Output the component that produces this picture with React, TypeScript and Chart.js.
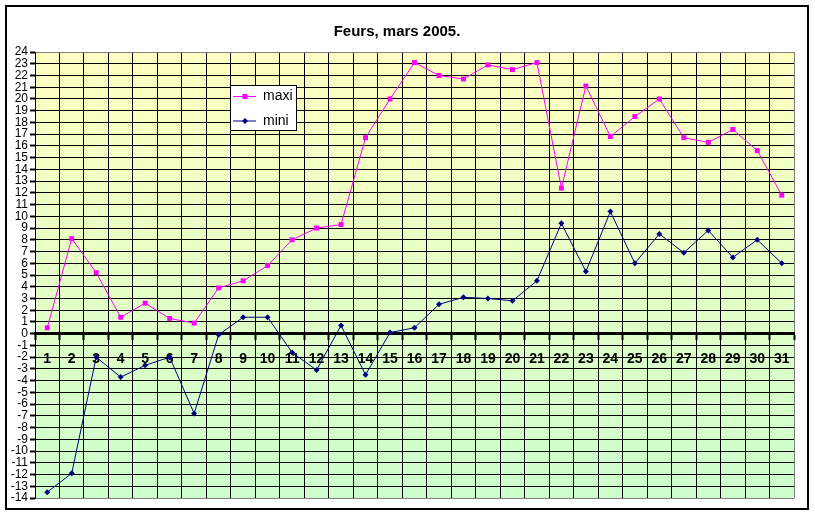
import React, { useEffect, useRef } from 'react';
import { Chart, registerables } from 'chart.js';

Chart.register(...registerables);

const TITLE = 'Feurs, mars 2005.';
const DAYS = ['1', '2', '3', '4', '5', '6', '7', '8', '9', '10', '11', '12', '13', '14', '15', '16', '17', '18', '19', '20', '21', '22', '23', '24', '25', '26', '27', '28', '29', '30', '31'];
const MAXI_LABEL = 'maxi';
const MINI_LABEL = 'mini';
const MAXI = [0.5, 8.1, 5.2, 1.4, 2.6, 1.3, 0.9, 3.9, 4.5, 5.8, 8.0, 9.0, 9.3, 16.7, 20.0, 23.1, 22.0, 21.7, 22.9, 22.5, 23.1, 12.4, 21.1, 16.8, 18.5, 20.0, 16.7, 16.3, 17.4, 15.6, 11.8];
const MINI = [-13.5, -11.9, -2.0, -3.7, -2.7, -2.0, -6.8, -0.1, 1.4, 1.4, -1.6, -3.1, 0.7, -3.5, 0.1, 0.5, 2.5, 3.1, 3.0, 2.8, 4.5, 9.4, 5.3, 10.4, 6.0, 8.5, 6.9, 8.8, 6.5, 8.0, 6.0];
const Y_MIN = -14;
const Y_MAX = 24;

const FONT = '"Liberation Sans", Arial, sans-serif';

const bgPlugin = {
  id: 'plotBg',
  beforeDraw(chart: any) {
    const { ctx, chartArea: a } = chart;
    const g = ctx.createLinearGradient(0, a.top, 0, a.bottom);
    g.addColorStop(0, '#FFFFC0');
    g.addColorStop(1, '#CCFFCC');
    ctx.save();
    ctx.fillStyle = g;
    ctx.fillRect(a.left, a.top, a.right - a.left, a.bottom - a.top);
    ctx.restore();
  },
};

const legendPlugin = {
  id: 'boxLegend',
  afterDraw(chart: any) {
    const ctx = chart.ctx;
    const x = 230, y = 85, w = 67, h = 46;
    ctx.save();
    ctx.fillStyle = '#ffffff';
    ctx.fillRect(x, y, w, h);
    ctx.strokeStyle = '#000000';
    ctx.lineWidth = 1;
    ctx.strokeRect(x + 0.5, y + 0.5, w - 1, h - 1);
    chart.data.datasets.forEach((ds: any, i: number) => {
      const cy = y + 11.5 + i * 24.5;
      ctx.strokeStyle = ds.borderColor;
      ctx.lineWidth = 1;
      ctx.beginPath();
      ctx.moveTo(x + 3, cy);
      ctx.lineTo(x + 26, cy);
      ctx.stroke();
      const cx = x + 15;
      ctx.fillStyle = ds.pointBackgroundColor;
      if (ds.pointStyle === 'rect') {
        ctx.fillRect(cx - 2.5, cy - 2.5, 5, 5);
      } else {
        ctx.beginPath();
        ctx.moveTo(cx, cy - 3);
        ctx.lineTo(cx + 3, cy);
        ctx.lineTo(cx, cy + 3);
        ctx.lineTo(cx - 3, cy);
        ctx.closePath();
        ctx.fill();
      }
      ctx.fillStyle = '#000000';
      ctx.font = '14px ' + FONT;
      ctx.textBaseline = 'middle';
      ctx.textAlign = 'left';
      ctx.fillText(ds.label, x + 33, cy);
    });
    ctx.restore();
  },
};

export default function App() {
  const ref = useRef<HTMLCanvasElement>(null);

  useEffect(() => {
    if (!ref.current) return;
    const chart = new Chart(ref.current, {
      type: 'line',
      data: {
        labels: DAYS,
        datasets: [
          {
            label: MAXI_LABEL,
            data: MAXI,
            borderColor: '#FF00FF',
            backgroundColor: '#FF00FF',
            pointBackgroundColor: '#FF00FF',
            pointBorderColor: '#FF00FF',
            pointStyle: 'rect',
            pointRadius: 3.5,
            pointBorderWidth: 0,
            borderWidth: 1,
            tension: 0,
            fill: false,
          },
          {
            label: MINI_LABEL,
            data: MINI,
            borderColor: '#000080',
            backgroundColor: '#000080',
            pointBackgroundColor: '#000080',
            pointBorderColor: '#000080',
            pointStyle: 'rectRot',
            pointRadius: 3,
            pointBorderWidth: 0,
            borderWidth: 1,
            tension: 0,
            fill: false,
          },
        ],
      },
      options: {
        animation: false,
        responsive: false,
        events: [],
        layout: { padding: { left: 0, right: 21, top: 0, bottom: 17 } },
        plugins: {
          legend: { display: false },
          tooltip: { enabled: false },
          title: {
            display: true,
            text: TITLE,
            color: '#000000',
            font: { family: FONT, size: 15, weight: 'bold' },
            padding: { top: 23, bottom: 11 },
          },
        },
        scales: {
          x: {
            type: 'category',
            position: { y: 0 } as any,
            offset: true,
            grid: {
              offset: true,
              color: (c: any) => (c.tick === undefined ? '#808080' : '#000000'),
              lineWidth: 1,
              drawTicks: true,
              tickLength: 5,
              tickColor: '#000000',
              tickWidth: 2,
            },
            border: { display: true, color: '#000000', width: 3 },
            ticks: {
              autoSkip: false,
              maxRotation: 0,
              color: '#000000',
              padding: 12,
              font: { family: FONT, size: 14, weight: 'bold' },
            },
          },
          y: {
            type: 'linear',
            min: Y_MIN,
            max: Y_MAX,
            afterFit: (s: any) => {
              s.width = 35;
            },
            grid: {
              color: (c: any) => (c.tick && (c.tick.value === Y_MAX || c.tick.value === Y_MIN) ? '#808080' : '#000000'),
              lineWidth: 1,
              drawTicks: true,
              tickLength: 5,
              tickColor: '#000000',
              tickWidth: 2,
            },
            border: { display: true, color: '#000000', width: 1 },
            ticks: {
              stepSize: 1,
              autoSkip: false,
              color: '#000000',
              padding: 2,
              font: { family: FONT, size: 12 },
            },
          },
        },
      },
      plugins: [bgPlugin, legendPlugin],
    } as any);
    return () => chart.destroy();
  }, []);

  return (
    <div style={{ position: 'fixed', left: 0, top: 0, width: 815, height: 515, background: '#ffffff' }}>
      <canvas ref={ref} width={815} height={515} style={{ position: 'absolute', left: 0, top: 0, width: 815, height: 515 }} />
      <div
        style={{
          position: 'absolute',
          left: 5,
          top: 5,
          width: 800,
          height: 501,
          border: '2px solid #000000',
          pointerEvents: 'none',
        }}
      />
    </div>
  );
}
